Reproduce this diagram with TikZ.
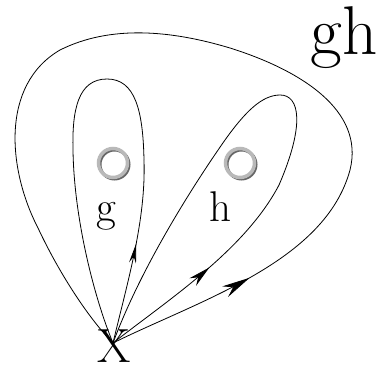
\documentclass[tikz,border=0pt]{standalone}
\usetikzlibrary{arrows.meta,decorations.markings}
\begin{document}
\begin{tikzpicture}[x=1pt, y=-1pt, >=Stealth,
  loop/.style={draw, line width=0.8pt},
  midtip/.style n args={3}{postaction={decorate}, decoration={markings,
    mark=at position #1 with {\arrow{Stealth[length=#2pt, width=#3pt]}}}},
  ball/.style={circle, minimum size=29pt, inner sep=0pt, draw=gray!55, line width=3.5pt},
  ballshade/.style={circle, minimum size=29pt, inner sep=0pt, draw=black!60, line width=3pt},
  letter/.style={anchor=base, inner sep=0pt}]
\useasboundingbox (0,0) rectangle (381,369);
% obstacles
\node[ballshade] at (114.5,164.5) {};
\node[ball] (ballg) at (113,163) {};
\node[ballshade] at (241.5,164.5) {};
\node[ball] (ballh) at (240,163) {};
% labels
\node[letter, font=\fontsize{43}{43}\selectfont] (lg) at (106,222) {g};
\node[letter, font=\fontsize{43}{43}\selectfont] (lh) at (220,222) {h};
\node[letter, font=\fontsize{69}{69}\selectfont] (lgh) at (344,55) {gh};
\node[letter, font=\fontsize{48}{48}\selectfont] (x) at (114,362) {X};
\coordinate (o) at (113,343);
% loop g
\draw[loop, midtip={0.55}{20}{7}] (o) .. controls (128,280) and (146,220) .. (144,160) coordinate (g1);
\draw[loop] (g1) .. controls (143,110) and (135,79) .. (107,79)
  .. controls (78,79) and (72,110) .. (73,150)
  .. controls (74,220) and (95,300) .. (o);
% loop h
\draw[loop, midtip={0.53}{22}{10}] (o) .. controls (168,300) and (245,250) .. (279,185) coordinate (h1);
\draw[loop] (h1) .. controls (305,125) and (300,95) .. (280,95)
  .. controls (262,95) and (245,112) .. (225,140)
  .. controls (190,190) and (140,270) .. (o);
% loop gh
\draw[loop, midtip={0.5}{28}{12}] (o) .. controls (200,300) and (325,262) .. (350,170) coordinate (k1);
\draw[loop] (k1) .. controls (365,110) and (300,70) .. (230,48)
  .. controls (170,30) and (110,25) .. (60,50)
  .. controls (0,85) and (8,170) .. (38,228)
  .. controls (60,275) and (90,320) .. (o);
\end{tikzpicture}
\end{document}
